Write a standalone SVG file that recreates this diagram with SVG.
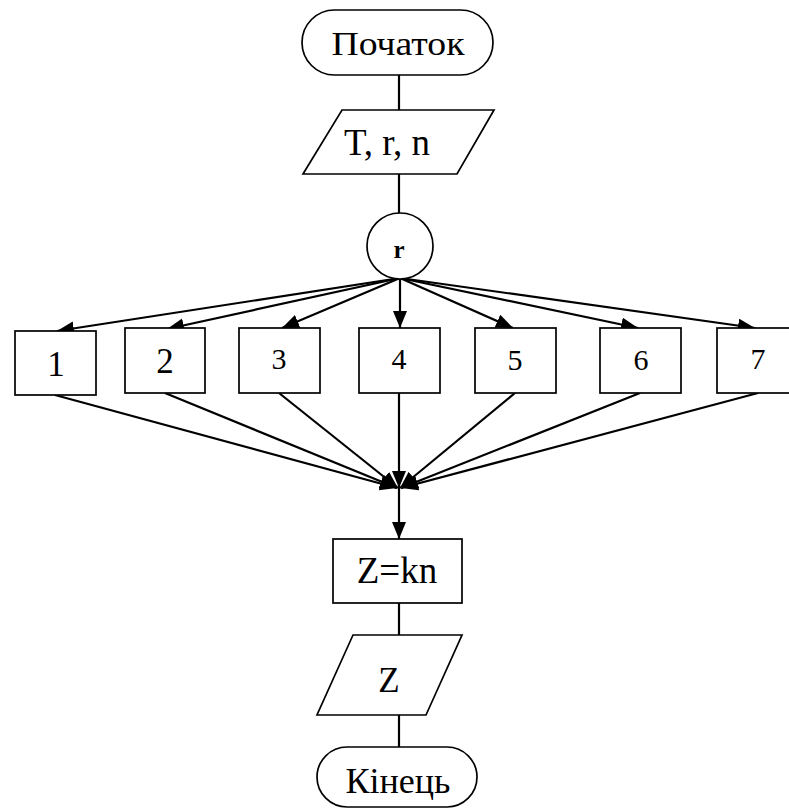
<svg xmlns="http://www.w3.org/2000/svg" width="789" height="808" viewBox="0 0 789 808">
<style>
.s{fill:#fff;stroke:#000;stroke-width:1.7}
.t{font-family:"Liberation Serif","Times New Roman",serif;fill:#000;text-anchor:middle}
.c{stroke:#000;stroke-width:2.2;fill:none}
.a{marker-end:url(#ah)}
</style>
<defs>
<marker id="ah" markerUnits="userSpaceOnUse" markerWidth="20" markerHeight="16" refX="17" refY="7" orient="auto">
<path d="M0,0 L17,7 L0,14 Z" fill="#000"/>
</marker>
</defs>
<g id="connectors">
<line class="c" x1="399" y1="75" x2="399" y2="110"/>
<line class="c" x1="399" y1="174" x2="399" y2="213"/>
<line class="c a" x1="400" y1="278" x2="57" y2="331"/>
<line class="c a" x1="400" y1="278" x2="167" y2="329"/>
<line class="c a" x1="400" y1="278" x2="282" y2="328"/>
<line class="c a" x1="400" y1="278" x2="400" y2="328"/>
<line class="c a" x1="400" y1="278" x2="513" y2="328"/>
<line class="c a" x1="400" y1="278" x2="638" y2="328"/>
<line class="c a" x1="400" y1="278" x2="755" y2="328"/>
<line class="c a" x1="55" y1="395" x2="397" y2="488"/>
<line class="c a" x1="165" y1="393" x2="397" y2="488"/>
<line class="c a" x1="279" y1="393" x2="398" y2="488"/>
<line class="c a" x1="399" y1="393" x2="399" y2="488"/>
<line class="c a" x1="515" y1="393" x2="400" y2="488"/>
<line class="c a" x1="640" y1="393" x2="401" y2="488"/>
<line class="c a" x1="758" y1="393" x2="401" y2="488"/>
<line class="c a" x1="399" y1="488" x2="399" y2="539"/>
<line class="c" x1="399" y1="603" x2="399" y2="635"/>
<line class="c" x1="399" y1="715" x2="399" y2="747"/>
</g>
<g id="start">
<rect class="s" x="302" y="10" width="191" height="65" rx="32.5"/>
<text class="t" x="398" y="55" font-size="34" textLength="133" lengthAdjust="spacingAndGlyphs">Початок</text>
</g>
<g id="input">
<polygon class="s" points="342,110 494,110 457,174 303,174"/>
<text class="t" x="387" y="155" font-size="37">T, r, n</text>
</g>
<g id="switch">
<circle class="s" cx="400" cy="246" r="33"/>
<text class="t" x="399" y="258" font-size="25" font-weight="bold">r</text>
</g>
<g id="b1"><rect class="s" x="15" y="331" width="81" height="64"/><text class="t" x="56" y="376" font-size="35">1</text></g>
<g id="b2"><rect class="s" x="125" y="328" width="80" height="65"/><text class="t" x="165" y="373" font-size="35">2</text></g>
<g id="b3"><rect class="s" x="239" y="328" width="81" height="65"/><text class="t" x="279" y="369" font-size="30">3</text></g>
<g id="b4"><rect class="s" x="359" y="328" width="81" height="65"/><text class="t" x="399" y="369" font-size="30">4</text></g>
<g id="b5"><rect class="s" x="475" y="328" width="81" height="65"/><text class="t" x="515" y="370" font-size="30">5</text></g>
<g id="b6"><rect class="s" x="600" y="328" width="81" height="65"/><text class="t" x="641" y="370" font-size="30">6</text></g>
<g id="b7"><rect class="s" x="717" y="328" width="81" height="65"/><text class="t" x="758" y="369" font-size="30">7</text></g>
<g id="calc">
<rect class="s" x="333" y="539" width="129" height="64"/>
<text class="t" x="397" y="583" font-size="37">Z=kn</text>
</g>
<g id="output">
<polygon class="s" points="353,635 462,635 426,715 317,715"/>
<text class="t" x="389" y="692" font-size="35">Z</text>
</g>
<g id="end">
<rect class="s" x="317" y="747" width="160" height="60" rx="30"/>
<text class="t" x="398" y="793" font-size="36">Кінець</text>
</g>
</svg>
